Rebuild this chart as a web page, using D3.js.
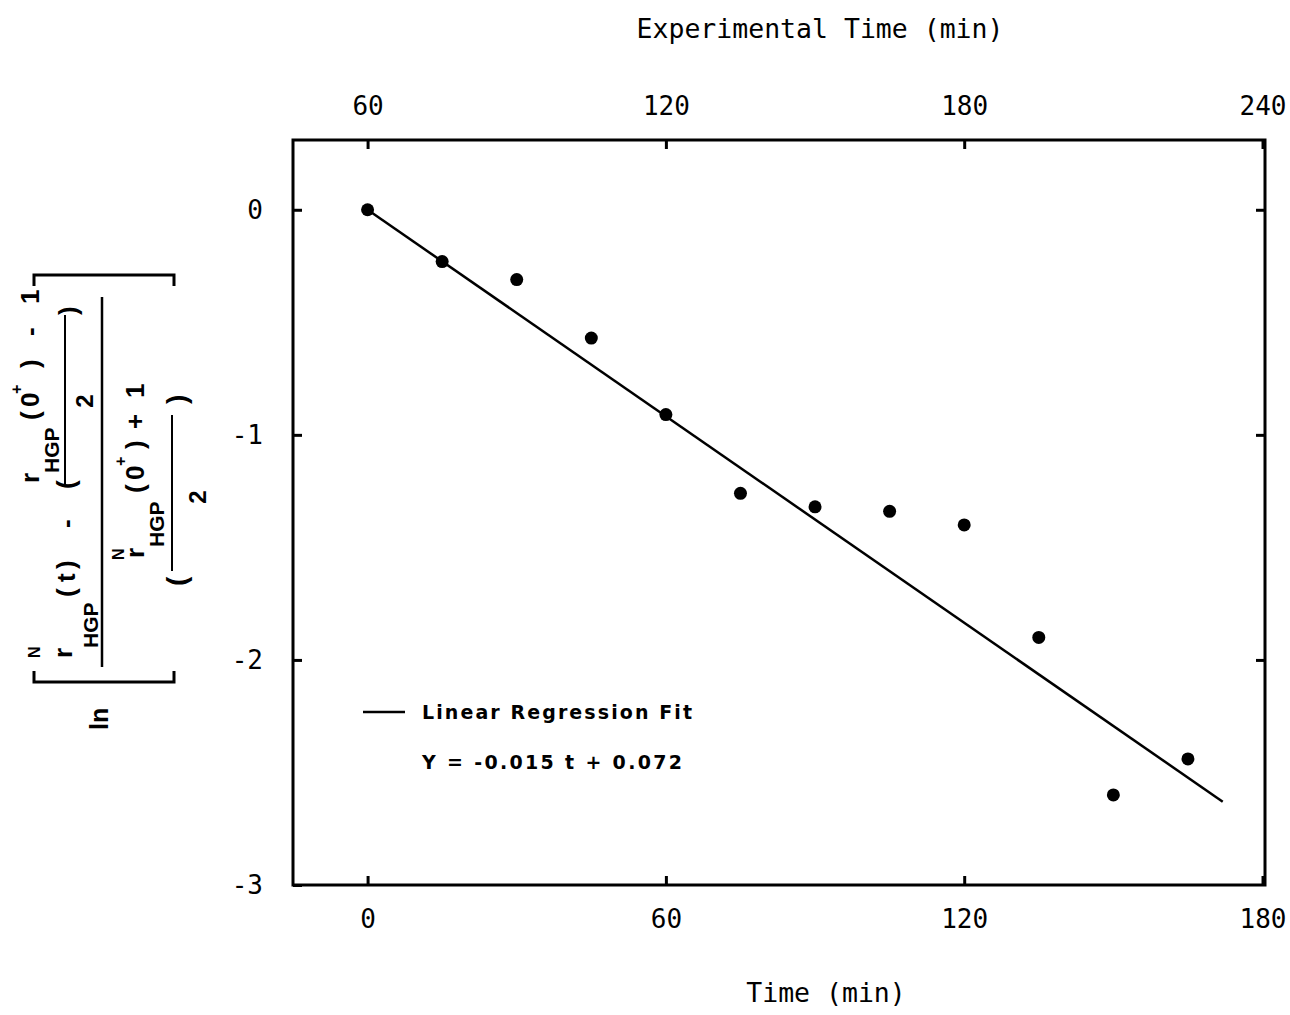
<!DOCTYPE html>
<html><head><meta charset="utf-8">
<script src="https://cdn.jsdelivr.net/npm/d3@7"></script>
<style>body{margin:0;background:#fff}</style>
</head><body>
<svg id="c" width="1290" height="1015"></svg>
<script>
// ---- data ----
const times  = [0, 15, 30, 45, 60, 75, 90, 105, 120, 135, 150, 165];
const values = [0, -0.23, -0.31, -0.57, -0.91, -1.26, -1.32, -1.34, -1.40, -1.90, -2.60, -2.44];
const fitT = [0, 172];
const fitY = [0, -2.63];
const xTicks = [0, 60, 120, 180];
const topTicks = [60, 120, 180, 240];
const yTicks = [0, -1, -2, -3];
const timeOffset = 60;
const xTitle = "Time (min)";
const topTitle = "Experimental Time (min)";
const legendLabel = "Linear Regression Fit";
const equationLabel = "Y = -0.015 t + 0.072";

// ---- layout ----
const L = 293, R = 1265, T = 140, B = 885;
const svg = d3.select("#c");
const x = d3.scaleLinear().domain([-15, 180.5]).range([L, R]);
const xTop = d3.scaleLinear().domain([-15 + timeOffset, 180.5 + timeOffset]).range([L, R]);
const y = d3.scaleLinear().domain([-3, 0.31]).range([B, T]);
const mono = "'DejaVu Sans Mono', 'Liberation Mono', monospace";

function styleAxis(g) {
  g.select(".domain").remove();
  g.selectAll(".tick line").attr("stroke", "#000").attr("stroke-width", 3);
  g.selectAll(".tick text").attr("fill", "#000").style("font-family", mono).style("font-size", "26px");
}

svg.append("g").attr("transform", `translate(0,${B})`)
  .call(d3.axisBottom(x).tickValues(xTicks).tickSize(-9).tickPadding(25).tickFormat(d => String(d)))
  .call(styleAxis);
svg.append("g").attr("transform", `translate(0,${T})`)
  .call(d3.axisTop(xTop).tickValues(topTicks).tickSize(-9).tickPadding(25).tickFormat(d => String(d)))
  .call(styleAxis);
svg.append("g").attr("transform", `translate(${L},0)`)
  .call(d3.axisLeft(y).tickValues(yTicks).tickSize(-9).tickPadding(30).tickFormat(d => String(d)))
  .call(styleAxis);
svg.append("g").attr("transform", `translate(${R},0)`)
  .call(d3.axisRight(y).tickValues(yTicks.slice(0, 3)).tickSize(-9).tickFormat(""))
  .call(styleAxis);

// frame
svg.append("rect").attr("x", L).attr("y", T).attr("width", R - L).attr("height", B - T)
  .attr("fill", "none").attr("stroke", "#000").attr("stroke-width", 3);

// fit line
const fit = fitT.map((t, i) => [t, fitY[i]]);
svg.append("path").datum(fit)
  .attr("d", d3.line().x(d => x(d[0])).y(d => y(d[1])))
  .attr("stroke", "#000").attr("stroke-width", 2.5).attr("fill", "none");

// points
svg.append("g").selectAll("circle").data(times.map((t, i) => [t, values[i]])).join("circle")
  .attr("cx", d => x(d[0])).attr("cy", d => y(d[1])).attr("r", 6.5).attr("fill", "#000");

// axis titles
svg.append("text").attr("x", 826).attr("y", 1002).attr("text-anchor", "middle")
  .style("font-family", mono).style("font-size", "26.5px").text(xTitle);
svg.append("text").attr("x", 820).attr("y", 38).attr("text-anchor", "middle")
  .style("font-family", mono).style("font-size", "26.5px").text(topTitle);

// legend
svg.append("line").attr("x1", 363).attr("x2", 405).attr("y1", 712).attr("y2", 712)
  .attr("stroke", "#000").attr("stroke-width", 2.5);
svg.append("text").attr("x", 422).attr("y", 719)
  .style("font-family", "'DejaVu Sans', sans-serif").style("font-size", "19px").style("font-weight", "bold")
  .attr("textLength", 270).attr("lengthAdjust", "spacing").text(legendLabel);
svg.append("text").attr("x", 422).attr("y", 769)
  .style("font-family", "'DejaVu Sans', sans-serif").style("font-size", "19px").style("font-weight", "bold")
  .attr("textLength", 260).attr("lengthAdjust", "spacing").text(equationLabel);

// ---- y-axis label (rotated formula) ----
const lab = svg.append("g").attr("transform", "translate(102,682) rotate(-90)")
  .style("font-family", "'Liberation Sans', Arial, sans-serif").style("font-weight", "bold").attr("fill", "#000");
function tx(u, v, size, str, anchor) {
  lab.append("text").attr("x", u).attr("y", v).attr("font-size", size)
    .attr("text-anchor", anchor || "start").text(str);
}
function seg(u1, v1, u2, v2, w) {
  lab.append("line").attr("x1", u1).attr("y1", v1).attr("x2", u2).attr("y2", v2)
    .attr("stroke", "#000").attr("stroke-width", w || 2.5);
}
// brackets
lab.append("path").attr("d", "M11,-68H0V72H11").attr("fill", "none").attr("stroke", "#000").attr("stroke-width", 3);
lab.append("path").attr("d", "M396,-68H407V72H396").attr("fill", "none").attr("stroke", "#000").attr("stroke-width", 3);
// ln
tx(-48, 6, 25, "ln");
// main bar
seg(15, 0, 385, 0, 2.5);
// numerator
tx(24, -30, 26, "r");
tx(24, -62, 16, "N");
tx(34, -4, 21, "HGP");
tx(85, -27, 26, "(");
tx(100, -27, 26, "t");
tx(113, -27, 26, ")");
tx(154, -27, 26, "-");
tx(193, -27, 26, "(");
// inner numerator fraction
tx(199, -63, 26, "r");
tx(209, -43, 21, "HGP");
tx(262, -63, 26, "(");
tx(275, -63, 26, "0");
tx(288, -80, 16, "+");
tx(314, -63, 26, ")");
tx(346, -63, 26, "-");
tx(378, -63, 26, "1");
seg(196, -37, 367, -37, 2);
tx(281, -9, 24, "2", "middle");
tx(367, -25, 26, ")");
// denominator
tx(96, 84, 28, "(");
tx(122, 22, 16, "N");
tx(124, 42, 26, "r");
tx(135, 62, 21, "HGP");
tx(189, 42, 26, "(");
tx(202, 42, 26, "0");
tx(216, 24, 16, "+");
tx(233, 42, 26, ")");
tx(253, 42, 26, "+");
tx(284, 42, 26, "1");
seg(111, 70, 267, 70, 2);
tx(185, 104, 24, "2", "middle");
tx(278, 84, 28, ")");
</script>
</body></html>
